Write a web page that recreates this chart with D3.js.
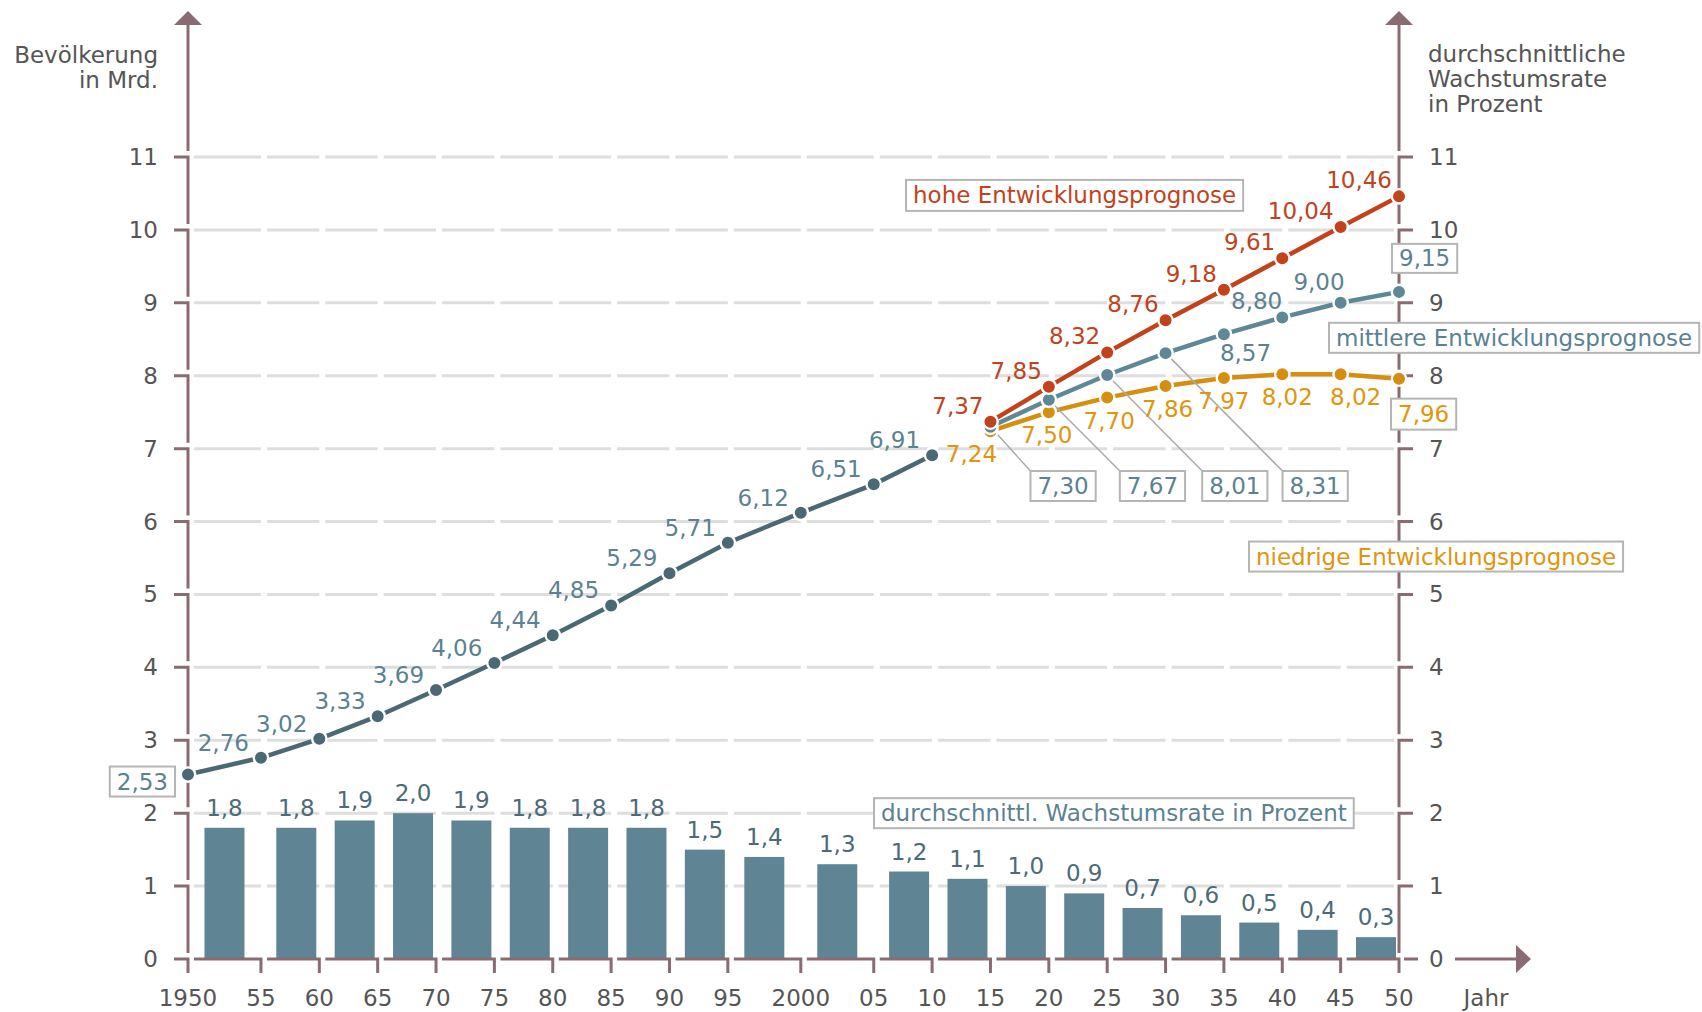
<!DOCTYPE html>
<html lang="de">
<head>
<meta charset="UTF-8">
<title>Weltbevölkerung 1950–2050</title>
<script src="https://cdn.jsdelivr.net/npm/d3@7"></script>
<style>
  body { margin: 0; background: #fff; }
  svg text { font-family: "DejaVu Sans", Verdana, sans-serif; font-size: 23px; }
</style>
</head>
<body>
<script>
// Stützjahre der x-Achse und ihre Beschriftungen
const tickYears = [1950, 1955, 1960, 1965, 1970, 1975, 1980, 1985, 1990, 1995, 2000,
                   2005, 2010, 2015, 2020, 2025, 2030, 2035, 2040, 2045, 2050];
const tickLabels = ["1950", "55", "60", "65", "70", "75", "80", "85", "90", "95", "2000",
                    "05", "10", "15", "20", "25", "30", "35", "40", "45", "50"];
const yTicks = [0, 1, 2, 3, 4, 5, 6, 7, 8, 9, 10, 11];

// Bevölkerung in Mrd. (bis 2010)
const histYears = [1950, 1955, 1960, 1965, 1970, 1975, 1980, 1985, 1990, 1995, 2000, 2005, 2010];
const histPop = [2.53, 2.76, 3.02, 3.33, 3.69, 4.06, 4.44, 4.85, 5.29, 5.71, 6.12, 6.51, 6.91];

// Prognosen
const progYears = [2015, 2020, 2025, 2030, 2035, 2040, 2045, 2050];
const highPop = [7.37, 7.85, 8.32, 8.76, 9.18, 9.61, 10.04, 10.46];
const midPop  = [7.30, 7.67, 8.01, 8.31, 8.57, 8.80, 9.00, 9.15];
const lowPop  = [7.24, 7.50, 7.70, 7.86, 7.97, 8.02, 8.02, 7.96];

// durchschnittliche Wachstumsrate je Fünfjahreszeitraum (%)
const growthRate = [1.8, 1.8, 1.9, 2.0, 1.9, 1.8, 1.8, 1.8, 1.5, 1.4,
                    1.3, 1.2, 1.1, 1.0, 0.9, 0.7, 0.6, 0.5, 0.4, 0.3];

// Farben
const axisCol = "#8b6b72", gridCol = "#dedede", textCol = "#555";
const histCol = "#4a6975", midCol = "#5e8797", barCol = "#5f8594";
const histText = "#5a8292", barText = "#4b6b78";
const highCol = "#c1421b", lowCol = "#d58e10", lowText = "#e0950c";
const boxStroke = "#b5b5b5";

const W = 1702, H = 1012;
const X0 = 188, X1 = 1399;

// Zeiträume 1950-55, 1995-2000 und 2000-05 sind in der Vorlage breiter
const wideStarts = [1950, 1995, 2000];
const nWide = wideStarts.length, nNorm = tickYears.length - 1 - nWide;
const step = (X1 - X0) / (nNorm + nWide * 1.25);
const tickPos = [X0];
for (let i = 1; i < tickYears.length; i++) {
  const w = wideStarts.includes(tickYears[i - 1]) ? step * 1.25 : step;
  tickPos.push(tickPos[i - 1] + w);
}
const x = d3.scaleLinear().domain(tickYears).range(tickPos);
const y = d3.scaleLinear().domain([0, 11]).range([959, 157]);

const de = d3.formatLocale({decimal: ",", thousands: ".", grouping: [3], currency: ["", "€"]});
const f2 = de.format(".2f"), f1 = de.format(".1f");

const svg = d3.select("body").append("svg")
  .attr("width", W).attr("height", H);

// Gitterlinien, als Stücke zwischen den Jahresmarken
const gridG = svg.append("g");
yTicks.filter(t => t > 0).forEach(t => {
  for (let i = 0; i < tickYears.length - 1; i++) {
    const last = i === tickYears.length - 2;
    gridG.append("line")
      .attr("x1", x(tickYears[i]) + 6).attr("x2", x(tickYears[i + 1]) - (last ? 5 : 0))
      .attr("y1", y(t)).attr("y2", y(t))
      .attr("stroke", gridCol).attr("stroke-width", 3);
  }
});

// Balken
const intervals = growthRate.map((v, i) => ({v, a: tickYears[i], b: tickYears[i + 1]}));
const barW = 40;
const barX = d => wideStarts.includes(d.a)
  ? (x(d.a) + x(d.b)) / 2 - barW / 2
  : x(d.b) - 3 - barW;
svg.append("g").selectAll("rect").data(intervals).join("rect")
  .attr("x", barX).attr("width", barW)
  .attr("y", d => y(d.v)).attr("height", d => y(0) - y(d.v))
  .attr("fill", barCol);
svg.append("g").selectAll("text").data(intervals).join("text")
  .attr("x", d => barX(d) + barW / 2).attr("y", d => y(d.v) - 12)
  .attr("text-anchor", "middle").attr("fill", barText)
  .text(d => f1(d.v));

// Achsen
const ax = svg.append("g").attr("fill", "none").attr("stroke", axisCol).attr("stroke-width", 3);
const arrowUp = cx => `M${cx - 14},25 L${cx + 14},25 L${cx},11 Z`;
// linke Achse
for (let k = 0; k < 11; k++) {
  ax.append("path").attr("d", `M${X0 - 14},${y(k + 1)} H${X0} V${y(k) - 6}`);
}
ax.append("path").attr("d", `M${X0 - 14},${y(0)} H${X0} V${y(0) + 14}`);
ax.append("path").attr("d", `M${X0},${y(11) - 6} V25`);
// rechte Achse
for (let k = 1; k <= 11; k++) {
  ax.append("path").attr("d", `M${X1 + 14},${y(k)} H${X1} V${y(k - 1) - 6}`);
}
ax.append("path").attr("d", `M${X1},${y(11) - 6} V25`);
ax.append("path").attr("d", `M${X1 + 5},${y(0)} H${X1 + 19}`);
// x-Achse
for (let i = 0; i < tickYears.length - 1; i++) {
  ax.append("path").attr("d", `M${x(tickYears[i]) + 6},${y(0)} H${x(tickYears[i + 1])} V${y(0) + 14}`);
}
ax.append("path").attr("d", `M1455,${y(0)} H1517`);
svg.append("path").attr("d", arrowUp(X0)).attr("fill", axisCol);
svg.append("path").attr("d", arrowUp(X1)).attr("fill", axisCol);
svg.append("path").attr("d", `M1516,${y(0) - 14} L1516,${y(0) + 14} L1531,${y(0)} Z`).attr("fill", axisCol);

// Achsenbeschriftungen
const lab = svg.append("g").attr("fill", textCol);
lab.selectAll(".yl").data(yTicks).join("text")
  .attr("x", 158).attr("y", d => y(d) + 8).attr("text-anchor", "end").text(d => d);
lab.selectAll(".yr").data(yTicks).join("text")
  .attr("x", 1429).attr("y", d => y(d) + 8).text(d => d);
lab.selectAll(".xl").data(tickYears).join("text")
  .attr("x", d => x(d)).attr("y", 1006).attr("text-anchor", "middle")
  .text((d, i) => tickLabels[i]);
lab.append("text").attr("x", 1486).attr("y", 1006).attr("text-anchor", "middle").text("Jahr");
lab.append("text").attr("x", 158).attr("y", 63).attr("text-anchor", "end").text("Bevölkerung");
lab.append("text").attr("x", 158).attr("y", 88).attr("text-anchor", "end").text("in Mrd.");
["durchschnittliche", "Wachstumsrate", "in Prozent"].forEach((t, i) =>
  lab.append("text").attr("x", 1428).attr("y", 62 + i * 25).text(t));

// Kästchen mit Text
function box(text, left, top, color, h = 30, pad = 7) {
  const g = svg.append("g");
  const r = g.append("rect").attr("fill", "#fff").attr("stroke", boxStroke).attr("stroke-width", 2);
  const t = g.append("text").attr("fill", color).text(text);
  const w = t.node().getComputedTextLength() + 2 * pad;
  r.attr("x", left).attr("y", top).attr("width", w).attr("height", h);
  t.attr("x", left + pad).attr("y", top + h / 2 + 8);
  return {w, g};
}

// Linien und Punkte
const line = d3.line().x(d => x(d[0])).y(d => y(d[1]));
const series = [
  {yrs: histYears, vals: histPop, col: histCol},
  {yrs: progYears, vals: lowPop, col: lowCol},
  {yrs: progYears, vals: midPop, col: midCol},
  {yrs: progYears, vals: highPop, col: highCol}
];
series.forEach(s => {
  const pts = s.yrs.map((yr, i) => [yr, s.vals[i]]);
  svg.append("path").datum(pts).attr("d", line)
    .attr("fill", "none").attr("stroke", s.col).attr("stroke-width", 4.5);
});

// Hinweislinien zu den Kästchen der mittleren Prognose
const midBoxDx = [40, 71, 95, 117];
const midBoxTop = 471;
midBoxDx.forEach((dx, i) => {
  svg.append("line")
    .attr("x1", x(progYears[i])).attr("y1", y(midPop[i]))
    .attr("x2", x(progYears[i]) + dx).attr("y2", midBoxTop)
    .attr("stroke", "#aaa").attr("stroke-width", 1.5);
});

series.forEach(s => {
  svg.append("g").selectAll("circle").data(s.yrs).join("circle")
    .attr("cx", d => x(d)).attr("cy", (d, i) => y(s.vals[i]))
    .attr("r", 7.2).attr("fill", s.col).attr("stroke", "#fff").attr("stroke-width", 2.4);
});

// Wertebeschriftungen
histYears.forEach((yr, i) => {
  if (i === 0) return;
  svg.append("text").attr("x", x(yr) - 12).attr("y", y(histPop[i]) - 7)
    .attr("text-anchor", "end").attr("fill", histText).text(f2(histPop[i]));
});
{
  const b = box(f2(histPop[0]), 0, 0, histText);
  b.g.attr("transform", `translate(${x(1950) - 13 - b.w},${y(histPop[0]) - 8})`);
}
progYears.forEach((yr, i) => {
  svg.append("text").attr("x", x(yr) - 7).attr("y", y(highPop[i]) - 8)
    .attr("text-anchor", "end").attr("fill", highCol).text(f2(highPop[i]));
});
const lowDx = [-19, -2, 2, 2, 0, 5, 15];
progYears.forEach((yr, i) => {
  if (i === progYears.length - 1) {
    box(f2(lowPop[i]), x(yr) - 8, y(lowPop[i]) + 20, lowText, 31);
    return;
  }
  svg.append("text").attr("x", x(yr) + lowDx[i]).attr("y", y(lowPop[i]) + 31)
    .attr("text-anchor", "middle").attr("fill", lowText).text(f2(lowPop[i]));
});
progYears.forEach((yr, i) => {
  if (i < midBoxDx.length) {
    box(f2(midPop[i]), x(yr) + midBoxDx[i], midBoxTop, histText);
  } else if (yr === 2035) {
    svg.append("text").attr("x", x(yr) - 4).attr("y", y(midPop[i]) + 27)
      .attr("fill", histText).text(f2(midPop[i]));
  } else if (yr === 2050) {
    box(f2(midPop[i]), x(yr) - 7, y(midPop[i]) - 48, histText, 29);
  } else {
    const dx = yr === 2045 ? 4 : 0, dy = yr === 2045 ? -13 : -8;
    svg.append("text").attr("x", x(yr) + dx).attr("y", y(midPop[i]) + dy)
      .attr("text-anchor", "end").attr("fill", histText).text(f2(midPop[i]));
  }
});

// Serienbeschriftungen
box("hohe Entwicklungsprognose", 906, y(10.48) - 15, highCol, 31);
box("mittlere Entwicklungsprognose", 1329, y(8.52) - 15, histText);
box("niedrige Entwicklungsprognose", 1249, y(5.52) - 15, lowText);
box("durchschnittl. Wachstumsrate in Prozent", 874, y(2) - 15, histText);
</script>
</body>
</html>
